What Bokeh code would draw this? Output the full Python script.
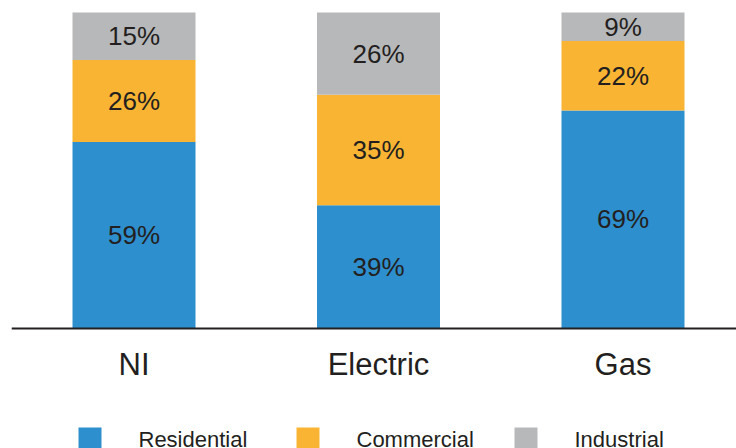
from bokeh.plotting import figure
from bokeh.models import Range1d, Span, ColumnDataSource
from bokeh.core.properties import value
from bokeh.embed import file_html
from bokeh.resources import INLINE

categories = ["NI", "Electric", "Gas"]
series = ["Residential", "Commercial", "Industrial"]
residential = [59, 39, 69]
commercial = [26, 35, 22]
industrial = [15, 26, 9]
colors = ["#2E8FCE", "#F8B432", "#B7B8BA"]
TEXT = "#231F20"
FONT = "Liberation Sans"

W, H = 736, 448
LEFT = 11
# pixel layout of the frame
unit_px = 244.5          # px per category step
x0_px = 133.5            # px of first category centre (canvas)
base_px = 328.0          # px of y=0
top_px = 12.0            # px of y=100
ppp = (base_px - top_px) / 100.0

def xd(px):
    return (px - x0_px) / unit_px

def yd(py):
    return (base_px - py) / ppp

p = figure(width=W, height=H, output_backend="svg", toolbar_location=None,
           min_border_left=LEFT, min_border_right=0, min_border_top=0, min_border_bottom=0,
           x_range=Range1d(xd(LEFT), xd(W)), y_range=Range1d(yd(H), yd(0)))
p.axis.visible = False
p.grid.visible = False
p.outline_line_color = None
p.background_fill_color = "white"
p.border_fill_color = "white"

idx = list(range(len(categories)))
stack = [residential, commercial, industrial]
bottoms = [0, 0, 0]
bar_w = 123 / unit_px
for vals, col in zip(stack, colors):
    tops = [b + v for b, v in zip(bottoms, vals)]
    src = ColumnDataSource(dict(x=idx, bottom=bottoms, top=tops,
                                mid=[(b + t) / 2 for b, t in zip(bottoms, tops)],
                                lab=[f"{v}%" for v in vals]))
    p.vbar(x="x", bottom="bottom", top="top", width=bar_w, source=src,
           fill_color=col, line_color=None)
    p.text(x="x", y="mid", text="lab", source=src, text_align="center",
           text_baseline="middle", text_font=value(FONT), text_font_size="26px",
           text_color=TEXT)
    bottoms = tops

p.add_layout(Span(location=0, dimension="width", line_color=TEXT, line_width=2))

# category labels
p.text(x=idx, y=[yd(363.5)] * 3, text=categories, text_align="center",
       text_baseline="middle", text_font=value(FONT), text_font_size="31px",
       text_color=TEXT)

# legend
leg_sq_px = [89.5, 307.5, 525.5]
p.rect(x=[xd(v) for v in leg_sq_px], y=[yd(438.5)] * 3, width=23, height=23,
       width_units="screen", height_units="screen", fill_color=colors, line_color=None)
p.text(x=[xd(v + 48.5) for v in leg_sq_px], y=[yd(439)] * 3, text=series,
       text_align="left", text_baseline="middle", text_font=value(FONT),
       text_font_size="22px", text_color=TEXT)

open("out.html", "w").write(file_html(p, INLINE))
